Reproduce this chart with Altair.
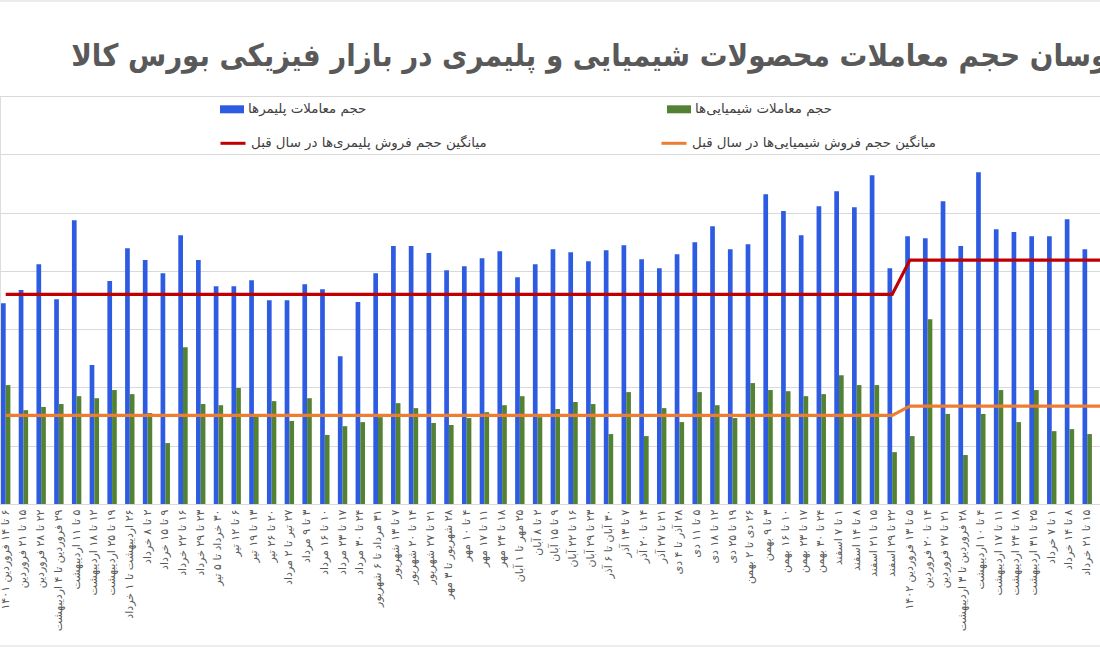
import altair as alt
import pandas as pd

# ---------------- data ----------------
categories = [
    "۶ تا ۱۴ فروردین ۱۴۰۱", "۱۵ تا ۲۱ فروردین", "۲۲ تا ۲۸ فروردین", "۲۹ فروردین تا ۴ اردیبهشت",
    "۵ تا ۱۱ اردیبهشت", "۱۲ تا ۱۸ اردیبهشت", "۱۹ تا ۲۵ اردیبهشت", "۲۶ اردیبهشت تا ۱ خرداد",
    "۲ تا ۸ خرداد", "۹ تا ۱۵ خرداد", "۱۶ تا ۲۲ خرداد", "۲۳ تا ۲۹ خرداد",
    "۳۰ خرداد تا ۵ تیر", "۶ تا ۱۲ تیر", "۱۳ تا ۱۹ تیر", "۲۰ تا ۲۶ تیر",
    "۲۷ تیر تا ۲ مرداد", "۳ تا ۹ مرداد", "۱۰ تا ۱۶ مرداد", "۱۷ تا ۲۳ مرداد",
    "۲۴ تا ۳۰ مرداد", "۳۱ مرداد تا ۶ شهریور", "۷ تا ۱۳ شهریور", "۱۴ تا ۲۰ شهریور",
    "۲۱ تا ۲۷ شهریور", "۲۸ شهریور تا ۳ مهر", "۴ تا ۱۰ مهر", "۱۱ تا ۱۷ مهر",
    "۱۸ تا ۲۴ مهر", "۲۵ مهر تا ۱ آبان", "۲ تا ۸ آبان", "۹ تا ۱۵ آبان",
    "۱۶ تا ۲۲ آبان", "۲۳ تا ۲۹ آبان", "۳۰ آبان تا ۶ آذر", "۷ تا ۱۳ آذر",
    "۱۴ تا ۲۰ آذر", "۲۱ تا ۲۷ آذر", "۲۸ آذر تا ۴ دی", "۵ تا ۱۱ دی",
    "۱۲ تا ۱۸ دی", "۱۹ تا ۲۵ دی", "۲۶ دی تا ۲ بهمن", "۳ تا ۹ بهمن",
    "۱۰ تا ۱۶ بهمن", "۱۷ تا ۲۳ بهمن", "۲۴ تا ۳۰ بهمن", "۱ تا ۷ اسفند",
    "۸ تا ۱۴ اسفند", "۱۵ تا ۲۱ اسفند", "۲۲ تا ۲۹ اسفند", "۵ تا ۱۳ فروردین ۱۴۰۲",
    "۱۴ تا ۲۰ فروردین", "۲۱ تا ۲۷ فروردین", "۲۸ فروردین تا ۳ اردیبهشت", "۴ تا ۱۰ اردیبهشت",
    "۱۱ تا ۱۷ اردیبهشت", "۱۸ تا ۲۴ اردیبهشت", "۲۵ تا ۳۱ اردیبهشت", "۱ تا ۷ خرداد",
    "۸ تا ۱۴ خرداد", "۱۵ تا ۲۱ خرداد",
]
# next week, cut off at the right edge of the picture (only the average lines reach it)
extra_category = "۲۲ تا ۲۸ خرداد"

polymer = [
    68.9, 73.4, 82.3, 70.3, 97.4, 47.7, 76.5, 87.8, 83.7, 79.2,
    92.2, 83.7, 74.7, 74.7, 76.8, 69.9, 69.9, 75.4, 73.7, 50.7,
    69.3, 79.2, 88.5, 88.5, 86.1, 80.2, 81.6, 84.3, 86.7, 77.8,
    82.3, 87.4, 86.4, 83.3, 87.1, 88.8, 84.0, 80.9, 85.7, 89.8,
    95.3, 87.4, 89.1, 106.3, 100.5, 92.2, 102.2, 107.3, 101.8, 112.8,
    80.9, 91.9, 91.2, 103.9, 88.5, 113.8, 94.3, 93.3, 91.9, 91.9,
    97.7, 87.4,
]
chemical = [
    40.8, 32.2, 33.3, 34.3, 37.0, 36.3, 39.1, 37.7, 31.2, 20.9,
    53.8, 34.3, 33.9, 39.8, 30.2, 35.3, 28.5, 36.3, 23.7, 26.7,
    28.1, 29.8, 34.6, 32.9, 27.8, 27.1, 29.5, 31.5, 33.9, 37.0,
    29.8, 32.6, 35.0, 34.3, 24.0, 38.4, 23.3, 32.9, 28.1, 38.4,
    33.9, 29.5, 41.5, 39.1, 38.7, 37.0, 37.7, 44.2, 40.8, 40.8,
    17.8, 23.3, 63.4, 30.9, 16.8, 30.9, 39.1, 28.1, 39.1, 25.0,
    25.7, 24.0,
]
# year of each week (1401 up to 22-29 Esfand, then 1402)
weeks_in_1401 = 51
polymer_prev_year_avg = {"1401": 71.9, "1402": 83.7}
chemical_prev_year_avg = {"1401": 30.4, "1402": 33.6}

s_poly = "حجم معاملات پلیمرها"
s_chem = "حجم معاملات شیمیایی‌ها"
s_poly_avg = "میانگین حجم فروش پلیمری‌ها در سال قبل"
s_chem_avg = "میانگین حجم فروش شیمیایی‌ها در سال قبل"

title_text = "نوسان حجم معاملات محصولات شیمیایی و پلیمری در بازار فیزیکی بورس کالا"

# ---------------- tables ----------------
all_cats = categories + [extra_category]

bar_rows = []
for c, p, ch in zip(categories, polymer, chemical):
    bar_rows.append({"cat": c, "series": s_poly, "value": p})
    bar_rows.append({"cat": c, "series": s_chem, "value": ch})
bars_df = pd.DataFrame(bar_rows)

line_rows = []
for i, c in enumerate(all_cats):
    yr = "1401" if i < weeks_in_1401 else "1402"
    line_rows.append({"cat": c, "idx": i, "series": s_poly_avg, "value": polymer_prev_year_avg[yr]})
    line_rows.append({"cat": c, "idx": i, "series": s_chem_avg, "value": chemical_prev_year_avg[yr]})
lines_df = pd.DataFrame(line_rows)

FONT = "DejaVu Sans"
TITLE_FONT = "DejaVu Sans Condensed"
BLUE, GREEN, RED, ORANGE = "#2D5BE2", "#548235", "#C00000", "#ED7D31"
RLM = "\u200f"  # right-to-left mark so that labels starting with a digit keep RTL order

label_expr = "datum.label == '" + extra_category + "' ? '' : '" + RLM + "' + datum.label"

x_scale = alt.Scale(domain=all_cats, range=[-3.17, 1113.8], paddingInner=0.47, paddingOuter=0.235)
x_axis = alt.Axis(
    title=None, labelAngle=-90, labelFontSize=11, labelColor="#595959", labelFont=FONT,
    labelPadding=5, ticks=False, domainColor="#D9D9D9", labelOverlap=False, labelLimit=300,
    grid=False, labelExpr=label_expr,
)
y_scale = alt.Scale(domain=[0, 140], nice=False, zero=True)
y_axis = alt.Axis(
    title=None, values=[0, 20, 40, 60, 80, 100, 120, 140], labels=False, ticks=False,
    domain=False, grid=True, gridColor="#D9D9D9", gridWidth=1,
)

bars = alt.Chart(bars_df).mark_bar().encode(
    x=alt.X("cat:N", sort=all_cats, scale=x_scale, axis=x_axis),
    xOffset=alt.XOffset("series:N", sort=[s_poly, s_chem],
                        scale=alt.Scale(domain=[s_poly, s_chem], paddingInner=0, paddingOuter=0)),
    y=alt.Y("value:Q", scale=y_scale, axis=y_axis),
    color=alt.Color(
        "series:N",
        scale=alt.Scale(domain=[s_poly, s_chem], range=[BLUE, GREEN]),
        legend=alt.Legend(
            title=None, orient="none", legendX=220, legendY=1, direction="horizontal",
            columns=2, gridAlign="all", columnPadding=282, padding=0,
            symbolType="M-1,-0.333H1V0.333H-1Z", symbolSize=576, symbolStrokeWidth=0,
            labelFont=FONT, labelFontSize=13.4, labelColor="#404040", labelOffset=4, labelLimit=400,
        ),
    ),
)

lines = alt.Chart(lines_df).mark_line(strokeWidth=3.2).encode(
    x=alt.X("cat:N", sort=all_cats, scale=x_scale, axis=x_axis),
    y=alt.Y("value:Q", scale=y_scale, axis=y_axis),
    order="idx:Q",
    stroke=alt.Stroke(
        "series:N",
        scale=alt.Scale(domain=[s_poly_avg, s_chem_avg], range=[RED, ORANGE]),
        legend=alt.Legend(
            title=None, orient="none", legendX=219, legendY=33, direction="horizontal",
            columns=2, gridAlign="all", columnPadding=160, padding=0,
            symbolType="stroke", symbolSize=625, symbolStrokeWidth=3,
            labelFont=FONT, labelFontSize=13.4, labelColor="#404040", labelOffset=4, labelLimit=400,
        ),
    ),
)

frame_df = pd.DataFrame({"k": [0]})
top_border = alt.Chart(frame_df).mark_rule(color="#D9D9D9", strokeWidth=1).encode(
    x=alt.value(0), x2=alt.value(1100), y=alt.value(-95)
)
bottom_border = alt.Chart(frame_df).mark_rule(color="#D9D9D9", strokeWidth=1).encode(
    x=alt.value(0), x2=alt.value(1100), y=alt.value(550)
)

chart = alt.layer(bars, lines, top_border, bottom_border).resolve_scale(
    color="independent"
).properties(
    width=1100,
    height=408,
    title=alt.TitleParams(
        text=title_text, font=TITLE_FONT, fontSize=30.8, fontWeight="bold", color="#595959",
        anchor="middle", dx=45, dy=96, offset=0, baseline="alphabetic",
    ),
    autosize=alt.AutoSizeParams(type="none"),
    padding={"left": 0, "top": 96, "right": 0, "bottom": 144},
).configure_view(stroke=None).configure(background="white")

chart.save("out.html", embed_options={"renderer": "svg", "actions": False})
